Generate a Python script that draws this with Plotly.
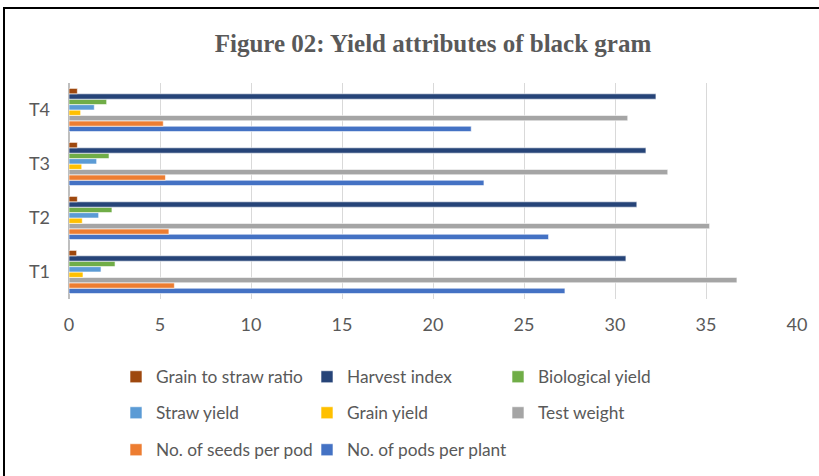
import plotly.graph_objects as go

categories = ["T1", "T2", "T3", "T4"]
pods_per_plant = [27.25, 26.35, 22.8, 22.1]
seeds_per_pod = [5.79, 5.49, 5.3, 5.18]
test_weight = [36.7, 35.2, 32.9, 30.7]
grain_yield = [0.77, 0.73, 0.70, 0.64]
straw_yield = [1.76, 1.63, 1.52, 1.39]
biological_yield = [2.53, 2.36, 2.2, 2.07]
harvest_index = [30.6, 31.2, 31.7, 32.25]
grain_straw_ratio = [0.42, 0.46, 0.46, 0.46]

series = [
    ("No. of pods per plant", pods_per_plant, "#4472C4", "legend3"),
    ("No. of seeds per pod", seeds_per_pod, "#ED7D31", "legend3"),
    ("Test weight", test_weight, "#A5A5A5", "legend2"),
    ("Grain yield", grain_yield, "#FFC000", "legend2"),
    ("Straw yield", straw_yield, "#5B9BD5", "legend2"),
    ("Biological yield", biological_yield, "#70AD47", "legend"),
    ("Harvest index", harvest_index, "#264478", "legend"),
    ("Grain to straw ratio", grain_straw_ratio, "#9E480E", "legend"),
]

FONT = "Lato, Liberation Sans, sans-serif"

fig = go.Figure()
for name, vals, color, lg in series:
    fig.add_trace(go.Bar(
        y=categories, x=vals, name=name, orientation="h",
        marker=dict(color=color, line=dict(color="white", width=0.6)),
        legend=lg,
        legendwidth=190 if name == "No. of pods per plant" else None,
    ))

W, H = 819, 476
L, R, T, B = 69, 22, 83, 177
pw, ph = W - L - R, H - T - B

def legend_cfg(ypx):
    return dict(
        orientation="h", traceorder="reversed",
        xref="container", yref="container",
        x=116 / W, xanchor="left",
        y=1 - ypx / H, yanchor="middle",
        entrywidth=146, entrywidthmode="pixels",
        font=dict(family=FONT, size=17.3, color="#595959"),
        bgcolor="rgba(0,0,0,0)", itemclick=False, itemdoubleclick=False,
    )

fig.update_layout(
    width=W, height=H,
    margin=dict(l=L, r=R, t=T, b=B, autoexpand=False),
    paper_bgcolor="white", plot_bgcolor="white",
    barmode="group", bargap=0.2, bargroupgap=0,
    title=dict(
        text="<b>Figure 02: Yield attributes of black gram</b>",
        x=0.5, xanchor="center", xref="paper",
        y=1 - 43 / H, yanchor="middle",
        font=dict(family="Liberation Serif, Times New Roman, serif", size=25, color="#595959"),
    ),
    xaxis=dict(
        range=[0, 40], dtick=5, showgrid=True, gridcolor="#D9D9D9", gridwidth=1,
        zeroline=True, zerolinecolor="#BFBFBF", zerolinewidth=1.5,
        showline=False, ticks="", ticklabelstandoff=13,
        tickfont=dict(family=FONT, size=18, color="#595959"),
        fixedrange=True,
    ),
    yaxis=dict(
        showgrid=False, zeroline=False, showline=False, ticks="",
        ticklabelstandoff=18,
        tickfont=dict(family=FONT, size=18, color="#595959"),
        categoryorder="array", categoryarray=categories,
        fixedrange=True,
    ),
    legend=legend_cfg(377),
    legend2=legend_cfg(413),
    legend3=legend_cfg(450),
    showlegend=True,
)

# outer chart frame
fig.add_shape(
    type="rect", xref="paper", yref="paper",
    x0=(4 - L) / pw, x1=(W + 30 - L) / pw,
    y0=(H - B - (H + 30)) / ph, y1=(H - B - 8) / ph,
    line=dict(color="black", width=2), fillcolor="rgba(0,0,0,0)", layer="below",
)

fig.write_html("out.html", config={"displayModeBar": False},
               post_script="document.body.style.margin='0';")
